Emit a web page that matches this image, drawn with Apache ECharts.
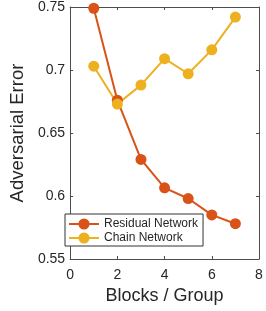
<!DOCTYPE html>
<html>
<head>
<meta charset="utf-8">
<script src="https://cdn.jsdelivr.net/npm/echarts@6/dist/echarts.min.js"></script>
<style>
html,body{margin:0;padding:0;background:#fff;}
#c{width:266px;height:311px;}
</style>
</head>
<body>
<div id="c"></div>
<script>
var blocks = [1, 2, 3, 4, 5, 6, 7];
var residual = [0.749, 0.676, 0.629, 0.6065, 0.598, 0.585, 0.578];
var chain = [0.703, 0.673, 0.688, 0.709, 0.697, 0.716, 0.742];
var seriesNames = ['Residual Network', 'Chain Network'];
var xTitle = 'Blocks / Group';
var yTitle = 'Adversarial Error';

function pairs(xs, ys) { return xs.map(function (x, i) { return [x, ys[i]]; }); }

var FONT = "'Liberation Sans', Arial, Helvetica, sans-serif";
var TXT = '#262626';
var AX = '#4d4d4d';

var chart = echarts.init(document.getElementById('c'), null, {renderer: 'canvas'});
chart.setOption({
  animation: false,
  backgroundColor: '#fff',
  textStyle: {fontFamily: FONT},
  grid: {left: 58, top: 7, width: 201, height: 252, containLabel: false},
  xAxis: [{
    type: 'value', min: 0, max: 8, interval: 2, position: 'bottom',
    name: xTitle, nameLocation: 'middle', nameGap: 28,
    nameTextStyle: {fontFamily: FONT, fontSize: 18, color: TXT},
    axisLine: {show: true, onZero: false, lineStyle: {color: AX, width: 1}},
    axisTick: {show: true, inside: true, length: 3, lineStyle: {color: AX}},
    axisLabel: {fontFamily: FONT, fontSize: 14, color: TXT, margin: 9},
    splitLine: {show: false}
  }, {
    type: 'value', min: 0, max: 8, interval: 2, position: 'top',
    axisLine: {show: true, onZero: false, lineStyle: {color: AX, width: 1}},
    axisTick: {show: true, inside: true, length: 3, lineStyle: {color: AX}},
    axisLabel: {show: false}, splitLine: {show: false}
  }],
  yAxis: [{
    type: 'value', min: 0.55, max: 0.75, interval: 0.05, position: 'left',
    name: yTitle, nameLocation: 'middle', nameGap: 38,
    nameTextStyle: {fontFamily: FONT, fontSize: 18.5, color: TXT},
    axisLine: {show: true, onZero: false, lineStyle: {color: AX, width: 1}},
    axisTick: {show: true, inside: true, length: 3, lineStyle: {color: AX}},
    axisLabel: {fontFamily: FONT, fontSize: 14, color: TXT, margin: 5},
    splitLine: {show: false}
  }, {
    type: 'value', min: 0.55, max: 0.75, interval: 0.05, position: 'right',
    axisLine: {show: true, onZero: false, lineStyle: {color: AX, width: 1}},
    axisTick: {show: true, inside: true, length: 3, lineStyle: {color: AX}},
    axisLabel: {show: false}, splitLine: {show: false}
  }],
  legend: {
    orient: 'vertical', left: 65, top: 214,
    padding: [4, 5, 2, 3],
    itemWidth: 30, itemHeight: 14, itemGap: 2,
    backgroundColor: '#fff', borderColor: '#333', borderWidth: 1, borderRadius: 0,
    textStyle: {fontFamily: FONT, fontSize: 12, color: TXT},
    data: seriesNames
  },
  series: [{
    name: seriesNames[0], type: 'line', data: pairs(blocks, residual),
    symbol: 'circle', symbolSize: 11,
    itemStyle: {color: '#D95319'}, lineStyle: {color: '#D95319', width: 2}
  }, {
    name: seriesNames[1], type: 'line', data: pairs(blocks, chain),
    symbol: 'circle', symbolSize: 11,
    itemStyle: {color: '#EDB120'}, lineStyle: {color: '#EDB120', width: 2}
  }]
});
</script>
</body>
</html>
